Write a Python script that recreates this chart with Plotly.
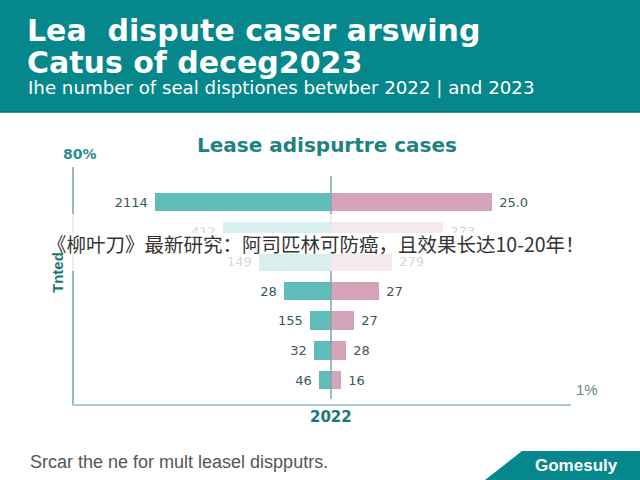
import plotly.graph_objects as go

# ---- data ----
rows = [0, 1, 2, 3, 4, 5, 6]
left_len = [176, 108, 72, 47, 21, 17, 12.5]     # teal bar lengths (2022 side)
right_len = [161, 112, 61, 48, 23, 15, 10]      # pink bar lengths (2023 side)
left_labels = ["2114", "412", "149", "28", "155", "32", "46"]
right_labels = ["25.0", "273", "279", "27", "27", "28", "16"]

W, H = 640, 480
def px(x):
    return x / W
def py(y):
    return 1 - y / H

TEAL_BAR = "#5fbdb9"
PINK_BAR = "#d5a3b9"
HEADER = "#06878b"
TEAL_TXT = "#1d8381"
WIDE = "DejaVu Sans"
NB = "\u00a0"
LABEL_FONT = dict(family=WIDE, size=13, color="#3a5858")

fig = go.Figure()
fig.add_trace(go.Bar(y=rows, x=[-v for v in left_len], orientation="h",
                     marker=dict(color=TEAL_BAR, line=dict(width=0)),
                     text=[t + NB for t in left_labels], textposition="outside",
                     outsidetextfont=LABEL_FONT, constraintext="none", cliponaxis=False,
                     width=0.62, hoverinfo="skip", showlegend=False))
fig.add_trace(go.Bar(y=rows, x=right_len, orientation="h",
                     marker=dict(color=PINK_BAR, line=dict(width=0)),
                     text=[NB + t for t in right_labels], textposition="outside",
                     outsidetextfont=LABEL_FONT, constraintext="none", cliponaxis=False,
                     width=0.62, hoverinfo="skip", showlegend=False))

def pa(x, y, text, size, color, bold=False, xanchor="center", family="Liberation Sans", angle=0):
    t = f"<b>{text}</b>" if bold else text
    return dict(x=px(x), y=py(y), xref="paper", yref="paper", text=t, showarrow=False,
                xanchor=xanchor, yanchor="middle", textangle=angle,
                font=dict(family=family, size=size, color=color))

ann = [
    pa(25, 31, "Lea  dispute caser arswing", 30, "white", True, "left", WIDE),
    pa(25, 63, "Catus of deceg2023", 30, "white", True, "left", WIDE),
    pa(26, 87, "Ihe number of seal disptiones betwber 2022 | and 2023", 18.2, "white", False, "left", WIDE),
    pa(327, 145, "Lease adispurtre cases", 20, TEAL_TXT, True, family=WIDE),
    pa(80, 154, "80%", 14, "#2a8f8c", True, family=WIDE),
    pa(587, 389, "1%", 15, "#5f8c8c"),
    pa(331, 417, "2022", 15, "#1e7674", True, family=WIDE),
    pa(57, 273, "Tnted", 15, "#1e7674", True, angle=-90),
    pa(316, 243, "《柳叶刀》最新研究：阿司匹林可防癌，且效果长达10-20年！", 19.5, "#333333",
       family="Noto Sans CJK SC"),
    pa(28, 462, "Srcar the ne for mult leasel dispputrs.", 18, "#555555", False, "left"),
    pa(533, 465, "Gomesuly", 17, "white", True, "left"),
]

shapes = [
    dict(type="rect", xref="paper", yref="paper", x0=0, x1=1, y0=py(112), y1=1,
         fillcolor=HEADER, line=dict(width=0), layer="below"),
    dict(type="line", xref="paper", yref="paper", x0=0, x1=1, y0=py(112), y1=py(112),
         line=dict(color="#04706f", width=1.5)),
    dict(type="line", xref="x", yref="paper", x0=0, x1=0, y0=py(176), y1=py(399),
         line=dict(color="#7fa6a6", width=1.5), layer="above"),
    dict(type="rect", xref="paper", yref="paper", x0=0, x1=1, y0=py(271), y1=py(214),
         fillcolor="rgba(255,255,255,0.76)", line=dict(width=0), layer="above"),
    dict(type="rect", xref="paper", yref="paper", x0=px(40), x1=px(595), y0=py(254), y1=py(233),
         fillcolor="rgba(255,255,255,0.97)", line=dict(width=0), layer="above"),
    dict(type="path", xref="paper", yref="paper",
         path=f"M {px(522)} {py(451)} L {px(640)} {py(451)} L {px(640)} {py(480)} L {px(485)} {py(480)} Z",
         fillcolor=HEADER, line=dict(width=0), layer="above"),
]

fig.update_layout(
    width=W, height=H,
    margin=dict(l=0, r=0, t=0, b=0),
    paper_bgcolor="white", plot_bgcolor="white",
    barmode="overlay", bargap=0,
    xaxis=dict(domain=[px(74), px(571)], range=[-257, 240], showgrid=False,
               zeroline=False, showticklabels=False, ticks="",
               showline=True, linecolor="#a8cccb", linewidth=2, fixedrange=True),
    yaxis=dict(domain=[py(404), py(167)], range=[6.808, -1.178], showgrid=False,
               zeroline=False, showticklabels=False, ticks="",
               showline=True, linecolor="#98bcbb", linewidth=2, fixedrange=True),
    annotations=ann,
    shapes=shapes,
)

fig.write_html("out.html", config={"displayModeBar": False},
               post_script="document.body.style.margin='0';document.body.style.overflow='hidden';")
